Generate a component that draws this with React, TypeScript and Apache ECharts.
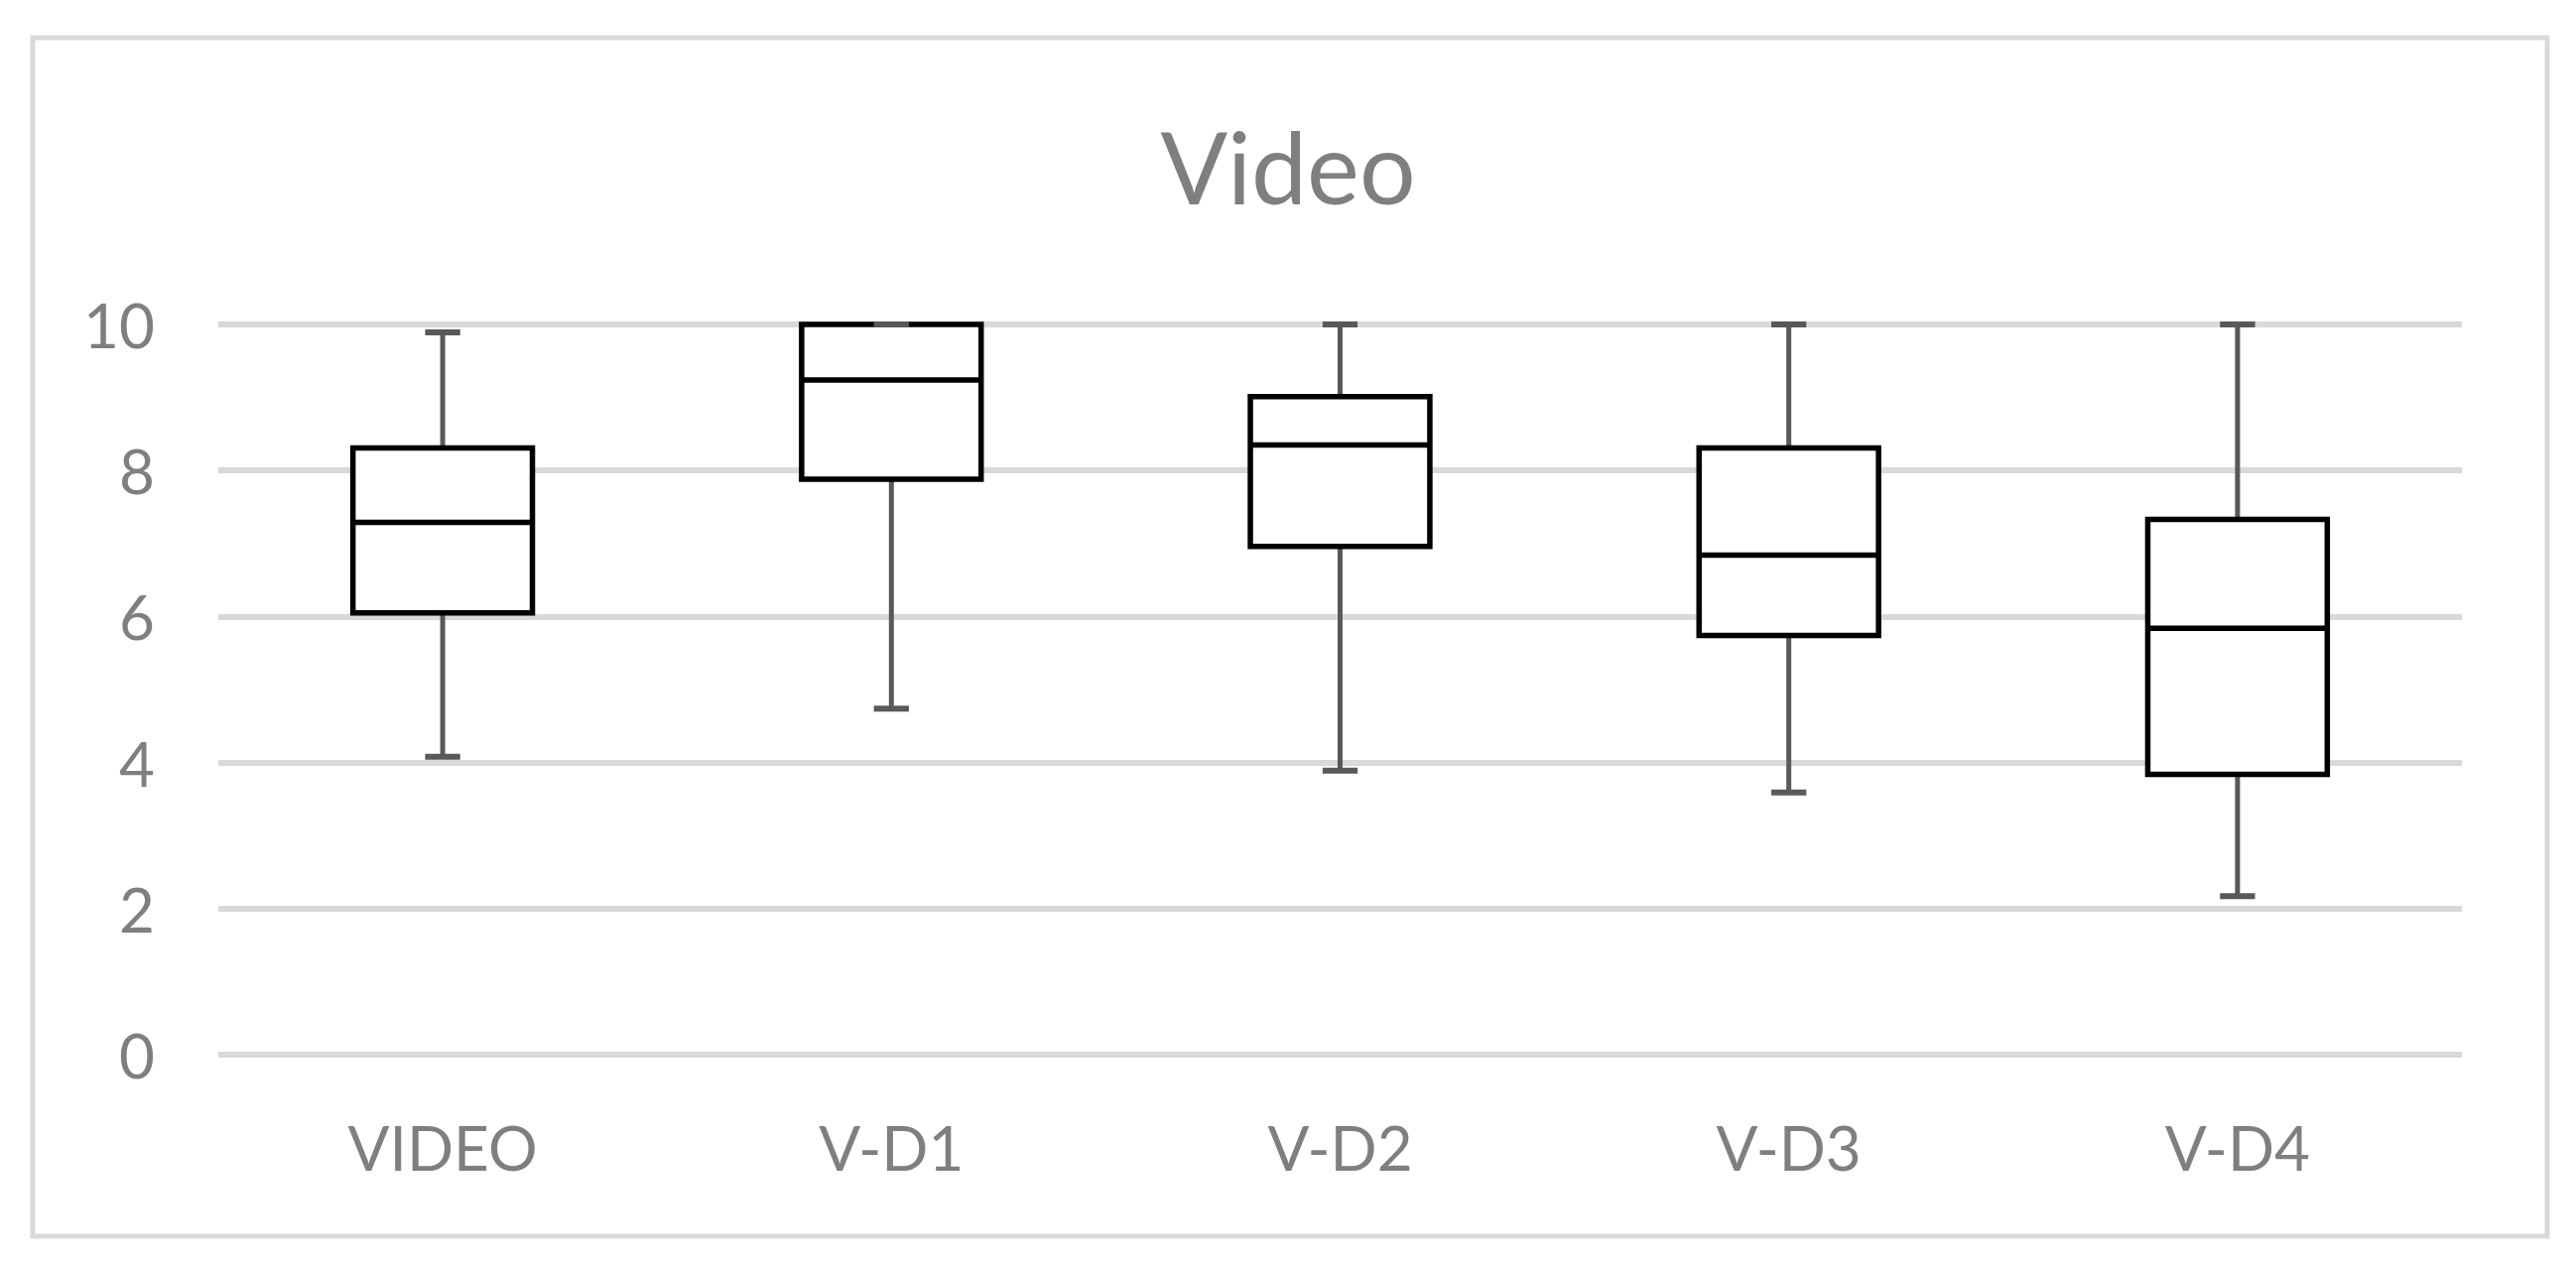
import React, { useEffect, useRef } from "react";
import * as echarts from "echarts";

const categories = ["VIDEO", "V-D1", "V-D2", "V-D3", "V-D4"];
const minValues = [4.08, 4.74, 3.89, 3.59, 2.17];
const q1Values = [6.05, 7.88, 6.96, 5.74, 3.84];
const medianValues = [7.29, 9.24, 8.35, 6.84, 5.84];
const q3Values = [8.31, 10, 9.01, 8.31, 7.33];
const maxValues = [9.89, 10, 10, 10, 10];
const yTicks = [0, 2, 4, 6, 8, 10];

const FONT = "Lato, 'Open Sans', sans-serif";
const TEXT_COLOR = "#7f7f7f";

export default function App() {
  const ref = useRef<HTMLDivElement>(null);

  useEffect(() => {
    if (!ref.current) return;
    const chart = echarts.init(ref.current, undefined, { renderer: "svg" });
    const data = categories.map((_, i) => [
      i,
      minValues[i],
      q1Values[i],
      medianValues[i],
      q3Values[i],
      maxValues[i],
    ]);

    const renderItem = (params: any, api: any) => {
      const idx = api.value(0);
      const lo = api.coord([idx, api.value(1)]);
      const q1 = api.coord([idx, api.value(2)]);
      const med = api.coord([idx, api.value(3)]);
      const q3 = api.coord([idx, api.value(4)]);
      const hi = api.coord([idx, api.value(5)]);
      const band = api.size([1, 0])[0];
      const bw = band * 0.4;
      const cw = band * 0.078;
      const cx = lo[0];
      const whisk = { stroke: "#595959", lineWidth: 5 };
      const cap = { stroke: "#595959", lineWidth: 6 };
      return {
        type: "group",
        children: [
          {
            type: "line",
            shape: { x1: cx, y1: q3[1], x2: cx, y2: hi[1] },
            style: whisk,
          },
          {
            type: "line",
            shape: { x1: cx, y1: q1[1], x2: cx, y2: lo[1] },
            style: whisk,
          },
          {
            type: "rect",
            shape: { x: cx - bw / 2, y: q3[1], width: bw, height: q1[1] - q3[1] },
            style: { fill: "#ffffff", stroke: "#000000", lineWidth: 5.5 },
          },
          {
            type: "line",
            shape: { x1: cx - bw / 2, y1: med[1], x2: cx + bw / 2, y2: med[1] },
            style: { stroke: "#000000", lineWidth: 5.5 },
          },
          {
            type: "line",
            shape: { x1: cx - cw / 2, y1: hi[1], x2: cx + cw / 2, y2: hi[1] },
            style: cap,
          },
          {
            type: "line",
            shape: { x1: cx - cw / 2, y1: lo[1], x2: cx + cw / 2, y2: lo[1] },
            style: cap,
          },
        ],
      };
    };

    chart.setOption({
      animation: false,
      backgroundColor: "#ffffff",
      title: {
        text: "Video",
        left: "center",
        top: 112,
        textStyle: {
          fontFamily: FONT,
          fontSize: 100,
          fontWeight: "normal",
          color: TEXT_COLOR,
        },
      },
      graphic: [
        {
          type: "rect",
          shape: { x: 33, y: 38, width: 2534, height: 1208 },
          style: { fill: "none", stroke: "#d9d9d9", lineWidth: 5 },
          silent: true,
        },
      ],
      grid: { left: 220, right: 115, top: 327, bottom: 212 },
      xAxis: {
        type: "category",
        data: categories,
        axisLine: { show: false },
        axisTick: { show: false },
        axisLabel: {
          fontFamily: FONT,
          fontSize: 62,
          color: TEXT_COLOR,
          margin: 62,
        },
        splitLine: { show: false },
      },
      yAxis: {
        type: "value",
        min: yTicks[0],
        max: yTicks[yTicks.length - 1],
        interval: 2,
        axisLine: { show: false },
        axisTick: { show: false },
        axisLabel: {
          fontFamily: FONT,
          fontSize: 62,
          color: TEXT_COLOR,
          margin: 64,
        },
        splitLine: { lineStyle: { color: "#d9d9d9", width: 6 } },
      },
      series: [
        {
          type: "custom",
          renderItem,
          data,
          encode: { x: 0, y: [1, 2, 3, 4, 5] },
          z: 3,
        },
      ],
    });
    return () => chart.dispose();
  }, []);

  return (
    <div
      ref={ref}
      style={{ position: "fixed", left: 0, top: 0, width: 2596, height: 1275 }}
    />
  );
}
